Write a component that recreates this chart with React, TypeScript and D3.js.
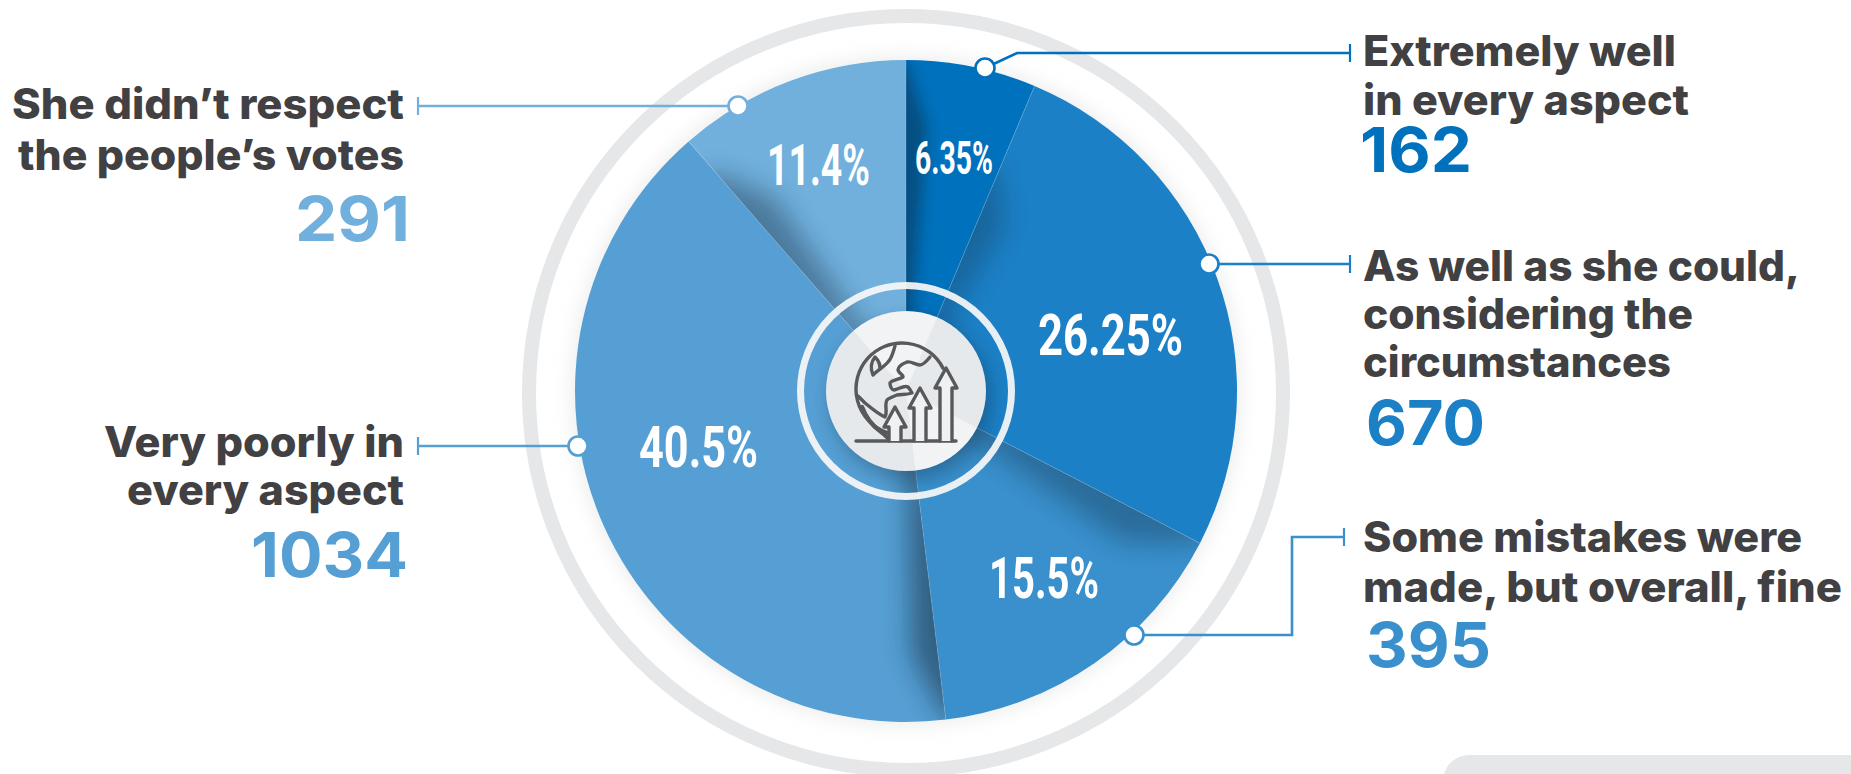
import React, { useEffect, useRef } from 'react';
import * as d3 from 'd3';

// data
const answers = [
  ['Extremely well', 'in every aspect'],
  ['As well as she could,', 'considering the', 'circumstances'],
  ['Some mistakes were', 'made, but overall, fine'],
  ['Very poorly in', 'every aspect'],
  ['She didn\u2019t respect', 'the people\u2019s votes'],
];
const votes = [162, 670, 395, 1034, 291];
const percentLabels = ['6.35%', '26.25%', '15.5%', '40.5%', '11.4%'];
const sliceColors = ['#0071bc', '#1c80c6', '#3990cd', '#559fd4', '#71b0dd'];

// layout, in page pixels
const width = 1851;
const height = 774;
const cx = 906;
const cy = 391;
const radius = 331;

const leaders = [
  [[985, 68], [1017, 53], [1350, 53]],
  [[1209, 264], [1350, 264]],
  [[1134, 635], [1292, 635], [1292, 537], [1344, 537]],
  [[578, 446], [418, 446]],
  [[738, 106], [418, 106]],
];
const textBlocks = [
  { x: 1363, anchor: 'start', lines: [[66, 313], [115, 326]], num: [172, 112, 1360] },
  { x: 1363, anchor: 'start', lines: [[281, 437], [329, 330], [377, 308]], num: [445, 119, 1366] },
  { x: 1363, anchor: 'start', lines: [[552, 439], [602, 479]], num: [667, 125, 1366] },
  { x: 404, anchor: 'end', lines: [[457, 300], [505, 277]], num: [577, 157, 408] },
  { x: 404, anchor: 'end', lines: [[119, 392], [170, 386]], num: [241, 115, 410] },
];
const percentPos = [
  { x: 915, y: 174, w: 78, size: 46 },
  { x: 1038, y: 355, w: 145, size: 58 },
  { x: 989, y: 598, w: 110, size: 58 },
  { x: 639, y: 467, w: 119, size: 58 },
  { x: 767, y: 185, w: 103, size: 58 },
];
// shadow at the start edge of each slice: angular spread and how far along the radius it runs
const shadows = [
  { spread: 0.08, outer: 1.0, op: 0.42, blur: 7 },
  { spread: 0.14, outer: 0.72, op: 0.28, blur: 13 },
  { spread: 0.13, outer: 1.0, op: 0.32, blur: 13 },
  { spread: 0.1, outer: 1.0, op: 0.5, blur: 13 },
  { spread: 0.12, outer: 0.88, op: 0.38, blur: 13 },
];

export default function App() {
  const ref = useRef<SVGSVGElement>(null);

  useEffect(() => {
    const svg = d3.select(ref.current);
    svg.selectAll('*').remove();

    const defs = svg.append('defs');
    const blur = (id, dev) =>
      defs.append('filter').attr('id', id)
        .attr('x', '-50%').attr('y', '-50%').attr('width', '200%').attr('height', '200%')
        .append('feGaussianBlur').attr('stdDeviation', dev);
    blur('halo', 10);
    blur('discShadow', 9);
    [7, 13].forEach((d) => blur('edge' + d, d));

    // outer ring, soft halo behind the pie
    svg.append('circle').attr('cx', cx).attr('cy', 393).attr('r', 377)
      .attr('fill', 'none').attr('stroke', '#e6e7e8').attr('stroke-width', 14);
    svg.append('circle').attr('cx', cx).attr('cy', cy).attr('r', radius + 2)
      .attr('fill', '#d4d6d8').attr('opacity', 0.5).attr('filter', 'url(#halo)');

    const pie = d3.pie<number>().sort(null).value((d) => d);
    const arcs = pie(votes);
    const arc = d3.arc<d3.PieArcDatum<number>>().innerRadius(0).outerRadius(radius);

    const chart = svg.append('g').attr('transform', `translate(${cx},${cy})`);

    arcs.forEach((a, i) => {
      defs.append('clipPath').attr('id', 'slice' + i)
        .append('path').attr('d', arc(a));
    });
    defs.append('clipPath').attr('id', 'discClip').append('circle').attr('r', 80);

    chart.selectAll('path.slice').data(arcs).enter().append('path')
      .attr('class', 'slice')
      .attr('d', arc)
      .attr('fill', (d, i) => sliceColors[i]);

    // shadow thrown on each slice by its neighbour
    arcs.forEach((a, i) => {
      const s = shadows[i];
      const pts = [
        [0, 0],
        d3.pointRadial(a.startAngle - 0.15, radius * s.outer),
        d3.pointRadial(a.startAngle, radius * s.outer),
        d3.pointRadial(a.startAngle + s.spread, radius * s.outer * 0.8),
      ];
      chart.append('g').attr('clip-path', `url(#slice${i})`)
        .append('path')
        .attr('d', d3.line()(pts) + 'Z')
        .attr('fill', '#0b2233')
        .attr('opacity', s.op)
        .attr('filter', `url(#edge${s.blur})`);
    });

    // thin light seam between slices
    chart.selectAll('line.seam').data(arcs).enter().append('line')
      .attr('class', 'seam')
      .attr('x1', 0).attr('y1', 0)
      .attr('x2', (d) => d3.pointRadial(d.startAngle, radius)[0])
      .attr('y2', (d) => d3.pointRadial(d.startAngle, radius)[1])
      .attr('stroke', '#ffffff').attr('stroke-opacity', 0.2).attr('stroke-width', 0.8);

    // centre: ring, disc and icon
    chart.append('circle').attr('cx', 5).attr('cy', 8).attr('r', 80)
      .attr('fill', '#123').attr('opacity', 0.32).attr('filter', 'url(#discShadow)');
    chart.append('circle').attr('r', 105.5).attr('fill', 'none')
      .attr('stroke', '#f6f7f7').attr('stroke-opacity', 0.93).attr('stroke-width', 7);
    chart.append('circle').attr('r', 80).attr('fill', '#f1f2f4');
    chart.append('g').attr('clip-path', 'url(#discClip)')
      .selectAll('path').data(arcs).enter().append('path')
      .attr('d', arc)
      .attr('fill', (d, i) => (i % 2 ? '#8d99a3' : '#ffffff'))
      .attr('opacity', 0.1);

    const icon = svg.append('g')
      .attr('fill', 'none').attr('stroke', '#58595b').attr('stroke-width', 3.4)
      .attr('stroke-linejoin', 'round').attr('stroke-linecap', 'round');
    const path = (d) => icon.append('path').attr('d', d);
    const globe = d3.arc()({ innerRadius: 46, outerRadius: 46, startAngle: 1.1, endAngle: -2.8 } as any);
    icon.append('path').attr('transform', 'translate(902,389)').attr('d', globe);
    // continents
    path('M895 346C893 352 892 358 888 362C884 367 878 370 873 375C870 368 871 362 875 357C878 360 880 365 880 368');
    path('M930 357C926 362 923 365 920 365C915 365 912 361 907 362C902 364 898 366 898 370C899 374 903 374 903 377C898 380 892 380 890 383C890 387 892 390 894 390C899 389 904 385 908 387C910 389 911 391 912 393C906 395 901 394 897 395C892 397 889 398 887 400C884 405 888 412 885 417C878 414 871 408 865 403L858 396');
    path('M862 407C866 418 873 426 880 431C884 434 886 436 888 438').attr('stroke-width', 4.5);
    path('M856 441H956');
    // arrows
    [[895, 407], [920, 388], [946, 368]].forEach(([x, top]) => {
      path(`M${x - 6} 441V${top + 20}H${x - 11}L${x} ${top}L${x + 11} ${top + 20}H${x + 6}V441`)
        .attr('fill', '#f0f1f3');
    });

    // leaders and dots
    leaders.forEach((pts, i) => {
      const last = pts[pts.length - 1];
      svg.append('path').attr('d', d3.line()(pts as any))
        .attr('fill', 'none').attr('stroke', sliceColors[i]).attr('stroke-width', 2.6);
      svg.append('line')
        .attr('x1', last[0]).attr('x2', last[0])
        .attr('y1', last[1] - 9).attr('y2', last[1] + 9)
        .attr('stroke', sliceColors[i]).attr('stroke-width', 2.2);
      svg.append('circle').attr('cx', pts[0][0]).attr('cy', pts[0][1]).attr('r', 9.5)
        .attr('fill', '#fff').attr('stroke', sliceColors[i]).attr('stroke-width', 2.6);
    });

    // percentages inside the slices
    percentLabels.forEach((t, i) => {
      const p = percentPos[i];
      svg.append('text').text(t)
        .attr('x', p.x).attr('y', p.y)
        .attr('textLength', p.w).attr('lengthAdjust', 'spacingAndGlyphs')
        .attr('font-family', '"Liberation Sans Narrow", Roboto, sans-serif')
        .attr('font-weight', 700).attr('font-size', p.size).attr('fill', '#fff');
    });

    // answers and counts
    answers.forEach((lines, i) => {
      const b = textBlocks[i];
      lines.forEach((t, j) => {
        svg.append('text').text(t)
          .attr('x', b.x).attr('y', b.lines[j][0])
          .attr('text-anchor', b.anchor)
          .attr('textLength', b.lines[j][1]).attr('lengthAdjust', 'spacingAndGlyphs')
          .attr('font-family', 'Inter, sans-serif').attr('font-weight', 800)
          .attr('font-size', 42).attr('fill', '#414042');
      });
      svg.append('text').text(votes[i])
        .attr('x', b.num[2]).attr('y', b.num[0])
        .attr('text-anchor', b.anchor)
        .attr('textLength', b.num[1]).attr('lengthAdjust', 'spacingAndGlyphs')
        .attr('font-family', 'Inter, sans-serif').attr('font-weight', 700)
        .attr('font-size', 62).attr('fill', sliceColors[i]);
    });

    // corner of the panel that continues below the crop
    svg.append('rect').attr('x', 1443).attr('y', 755).attr('width', 460).attr('height', 80)
      .attr('rx', 26).attr('fill', '#e6e7e8');
  }, []);

  return (
    <svg
      ref={ref}
      width={width}
      height={height}
      style={{ position: 'fixed', left: 0, top: 0, display: 'block', background: '#fff' }}
    />
  );
}
